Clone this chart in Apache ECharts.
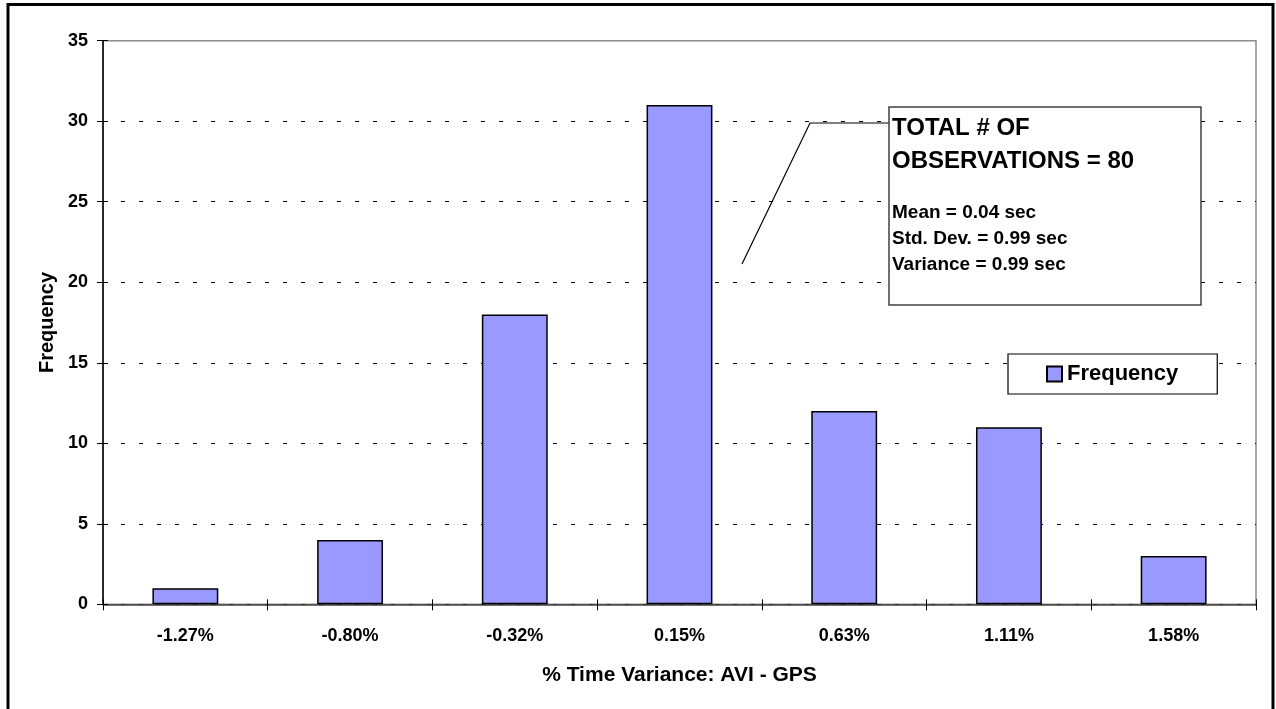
<!DOCTYPE html>
<html>
<head>
<meta charset="utf-8">
<title>Frequency histogram</title>
<script src="https://cdn.jsdelivr.net/npm/echarts@6/dist/echarts.min.js"></script>
<style>
  html, body { margin: 0; padding: 0; background: #fff; }
  #chart { width: 1276px; height: 709px; }
</style>
</head>
<body>
<div id="chart"></div>
<script>
// Bin labels (% time variance) and observation counts per bin
const categories = ['-1.27%', '-0.80%', '-0.32%', '0.15%', '0.63%', '1.11%', '1.58%'];
const frequency = [1, 4, 18, 31, 12, 11, 3];
const yTicks = { min: 0, max: 35, interval: 5 };

// Summary statistics shown in the annotation box
const headingLines = ['TOTAL # OF', 'OBSERVATIONS = 80'];
const statLines = ['Mean = 0.04 sec', 'Std. Dev. = 0.99 sec', 'Variance = 0.99 sec'];

const FONT = '"Liberation Sans", Arial, Helvetica, sans-serif';
const chart = echarts.init(document.getElementById('chart'), null, { renderer: 'canvas' });

// split lines: dashed black, except the top one which is the grey plot border
const splitColors = [];
for (let v = yTicks.min; v <= yTicks.max; v += yTicks.interval) {
  splitColors.push(v === yTicks.max ? 'rgba(0,0,0,0)' : '#000');
}

const labelStyle = { fontFamily: FONT, fontSize: 18, fontWeight: 'bold', color: '#000' };

chart.setOption({
  backgroundColor: '#fff',
  animation: false,
  textStyle: { fontFamily: FONT },
  grid: {
    left: 103, right: 20, top: 40.7, bottom: 104.7,
    show: true, borderColor: '#8c8c8c', borderWidth: 1.5, backgroundColor: '#fff'
  },
  legend: {
    left: 1008, top: 354,
    orient: 'horizontal',
    padding: [9, 39, 9, 38],
    borderColor: '#000', borderWidth: 1.2,
    backgroundColor: '#fff',
    icon: 'rect',
    itemWidth: 15, itemHeight: 15, itemGap: 5,
    textStyle: { fontFamily: FONT, fontSize: 22, fontWeight: 'bold', color: '#000' },
    data: ['Frequency']
  },
  xAxis: [{
    type: 'category',
    data: categories,
    boundaryGap: true,
    name: '% Time Variance: AVI - GPS',
    nameLocation: 'middle',
    nameGap: 60,
    nameTextStyle: { fontFamily: FONT, fontSize: 21, fontWeight: 'bold', color: '#000' },
    axisLine: { lineStyle: { color: '#404040', width: 1.5 } },
    axisTick: { show: true, length: 6, inside: false, lineStyle: { color: '#000' } },
    axisLabel: Object.assign({ margin: 23 }, labelStyle),
    splitLine: { show: false }
  }, {
    // inner half of the crossing tick marks
    type: 'category',
    data: categories,
    position: 'bottom',
    boundaryGap: true,
    axisLine: { show: false },
    axisTick: { show: true, length: 5, inside: true, lineStyle: { color: '#000' } },
    axisLabel: { show: false },
    splitLine: { show: false }
  }],
  yAxis: [{
    type: 'value',
    min: yTicks.min, max: yTicks.max, interval: yTicks.interval,
    name: 'Frequency',
    nameLocation: 'middle',
    nameGap: 46,
    nameTextStyle: { fontFamily: FONT, fontSize: 20, fontWeight: 'bold', color: '#000' },
    axisLine: { show: true, lineStyle: { color: '#000', width: 1.5 } },
    axisTick: { show: true, length: 6, lineStyle: { color: '#000' } },
    axisLabel: Object.assign({ margin: 15 }, labelStyle),
    splitLine: { show: true, lineStyle: { color: splitColors, width: 1, type: [4, 14] } }
  }, {
    type: 'value',
    position: 'left',
    min: yTicks.min, max: yTicks.max, interval: yTicks.interval,
    axisLine: { show: false },
    axisTick: { show: true, length: 5, inside: true, lineStyle: { color: '#000' } },
    axisLabel: { show: false },
    splitLine: { show: false }
  }],
  series: [{
    name: 'Frequency',
    type: 'bar',
    data: frequency,
    barWidth: '40%',
    itemStyle: { color: '#9999ff', borderColor: '#000', borderWidth: 1.5 }
  }],
  graphic: [
    // outer chart frame
    {
      type: 'rect', silent: true, z: 100,
      shape: { x: 8, y: 4.5, width: 1265, height: 720 },
      style: { fill: null, stroke: '#000', lineWidth: 3 }
    },
    // leader line from the annotation box
    {
      type: 'polyline', silent: true, z: 100,
      shape: { points: [[742, 264], [810, 123], [889, 123]] },
      style: { fill: null, stroke: '#000', lineWidth: 1.2 }
    },
    // annotation box
    {
      type: 'rect', silent: true, z: 100,
      shape: { x: 889, y: 107, width: 312, height: 198 },
      style: { fill: '#fff', stroke: '#404040', lineWidth: 1.5 }
    },
    ...headingLines.map((t, i) => ({
      type: 'text', silent: true, z: 101,
      left: 892, top: 116 + i * 33,
      style: { text: t, fill: '#000', font: 'bold 24px ' + FONT }
    })),
    ...statLines.map((t, i) => ({
      type: 'text', silent: true, z: 101,
      left: 892, top: 203 + i * 26,
      style: { text: t, fill: '#000', font: 'bold 19px ' + FONT }
    }))
  ]
});
</script>
</body>
</html>
